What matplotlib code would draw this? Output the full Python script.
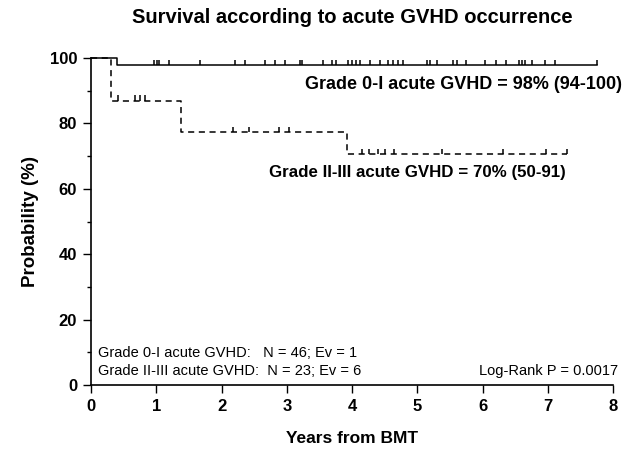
import matplotlib
matplotlib.use('Agg')
import matplotlib.pyplot as plt
import numpy as np

plt.rcParams['font.family'] = ['Liberation Sans', 'DejaVu Sans']

# Grade 0-I acute GVHD
g1_event_t = [0.0, 0.40]
g1_surv = [100, 97.8]
g1_end = 7.75
g1_censor = [0.97, 1.01, 1.04, 1.20, 1.67, 2.21, 2.36, 2.67, 2.82, 2.97, 3.20, 3.23,
             3.56, 3.69, 3.75, 3.94, 4.00, 4.06, 4.12, 4.28, 4.43, 4.55, 4.63, 4.70,
             4.78, 5.15, 5.20, 5.30, 5.55, 5.61, 5.75, 6.04, 6.21, 6.36, 6.56, 6.61,
             6.65, 6.76, 6.96, 7.11, 7.75]

# Grade II-III acute GVHD
g2_event_t = [0.0, 0.31, 1.38, 3.92]
g2_surv = [100, 87.0, 77.4, 70.5]
g2_end = 7.3
g2_censor = [0.41, 0.67, 0.75, 0.83, 2.18, 2.42, 2.88, 3.03,
             4.15, 4.26, 4.40, 4.50, 4.64, 5.38, 6.31, 6.97, 7.3]

x_ticks = [0, 1, 2, 3, 4, 5, 6, 7, 8]
y_ticks = [0, 20, 40, 60, 80, 100]


def step_value(times, surv, t):
    idx = np.searchsorted(times, t, side='right') - 1
    return np.asarray(surv)[idx]


fig = plt.figure(figsize=(6.29, 4.53), dpi=100)
ax = fig.add_axes([0.1447, 0.150, 0.830, 0.722])

# 曲线
for times, surv, end, censor, ls in [
        (g1_event_t, g1_surv, g1_end, g1_censor, '-'),
        (g2_event_t, g2_surv, g2_end, g2_censor, (0, (4, 3)))]:
    xs = list(times) + [end]
    ys = list(surv) + [surv[-1]]
    ax.step(xs, ys, where='post', color='black', lw=1.1, linestyle=ls, clip_on=False)
    cy = step_value(times, surv, censor)
    ax.vlines(censor, cy, cy + 1.6, color='black', lw=1.1, clip_on=False)

ax.set_xlim(0, 8)
ax.set_ylim(0, 100)
ax.set_xticks(x_ticks)
ax.set_yticks(y_ticks)
ax.set_yticks([10, 30, 50, 70, 90], minor=True)
ax.tick_params(axis='both', which='major', direction='out', length=6, width=1,
               labelsize=12, pad=4)
ax.tick_params(axis='y', which='minor', direction='out', length=3, width=1)
for lbl in ax.get_xticklabels() + ax.get_yticklabels():
    lbl.set_fontweight('bold')

ax.spines['top'].set_visible(False)
ax.spines['right'].set_visible(False)
ax.spines['left'].set_linewidth(1.2)
ax.spines['bottom'].set_linewidth(1.2)

ax.set_title('Survival according to acute GVHD occurrence', fontsize=14.5,
             fontweight='bold', pad=25)
ax.set_xlabel('Years from BMT', fontsize=12.5, fontweight='bold', labelpad=12)
ax.set_ylabel('Probability (%)', fontsize=13.5, fontweight='bold', labelpad=8)

ax.text(8.14, 92, 'Grade 0-I acute GVHD = 98% (94-100)', ha='right', va='center',
        fontsize=13, fontweight='bold')
ax.text(7.28, 65.0, 'Grade II-III acute GVHD = 70% (50-91)', ha='right', va='center',
        fontsize=12.2, fontweight='bold')

ax.text(0.1, 9.8, 'Grade 0-I acute GVHD:   N = 46; Ev = 1', ha='left', va='center',
        fontsize=10.5)
ax.text(0.1, 4.2, 'Grade II-III acute GVHD:  N = 23; Ev = 6', ha='left', va='center',
        fontsize=10.5)
ax.text(8.07, 4.2, 'Log-Rank P = 0.0017', ha='right', va='center', fontsize=10.5)

fig.savefig('out.png', dpi=100)
